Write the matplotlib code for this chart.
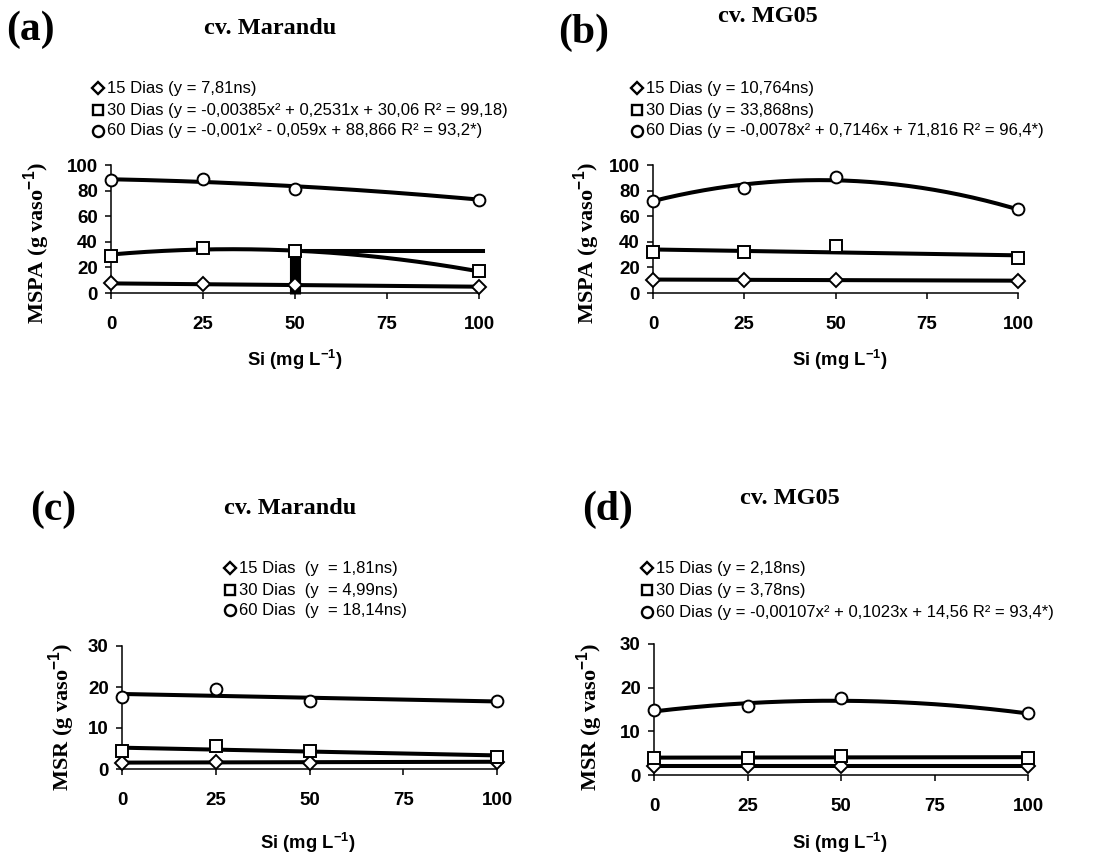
import numpy as np
import matplotlib.pyplot as plt
from matplotlib.lines import Line2D

plt.rcParams['mathtext.fontset'] = 'custom'
plt.rcParams['mathtext.rm'] = 'Liberation Sans:bold'
plt.rcParams['mathtext.bf'] = 'Liberation Sans:bold'

W, H = 1110, 859

si = [0, 25, 50, 100]

# (a) MSPA cv. Marandu
a15 = [7.5, 7, 6, 5]
a30 = [29, 35, 33, 17]
a60 = [88, 89, 81, 73]
a30_coef = [-0.00385, 0.2531, 30.06]
a60_coef = [-0.001, -0.059, 88.866]
# stray marks in the original figure (a)
a_bar_x = [50, 50]
a_bar_y = [-1, 33]
a_hline_x = [53, 101]
a_hline_y = [33, 33]

# (b) MSPA cv. MG05
b15 = [10.5, 10, 10.5, 9.5]
b30 = [32, 32, 37, 27]
b60 = [72, 82, 91, 66]
b60_coef = [-0.0078, 0.7146, 71.816]

# (c) MSR cv. Marandu
c15 = [1.5, 1.8, 1.5, 1.8]
c30 = [4.5, 5.5, 4.5, 3]
c60 = [17.5, 19.5, 16.5, 16.5]

# (d) MSR cv. MG05
d15 = [2, 2, 2, 2]
d30 = [4, 3.8, 4.3, 4]
d60 = [14.8, 15.8, 17.6, 14.1]
d60_coef = [-0.00107, 0.1023, 14.56]

leg_a = ['15 Dias (y = 7,81ns)',
         '30 Dias (y = -0,00385x² + 0,2531x + 30,06 R² = 99,18)',
         '60 Dias (y = -0,001x² - 0,059x + 88,866 R² = 93,2*)']
leg_b = ['15 Dias (y = 10,764ns)',
         '30 Dias (y = 33,868ns)',
         '60 Dias (y = -0,0078x² + 0,7146x + 71,816 R² = 96,4*)']
leg_c = ['15 Dias  (y  = 1,81ns)',
         '30 Dias  (y  = 4,99ns)',
         '60 Dias  (y  = 18,14ns)']
leg_d = ['15 Dias (y = 2,18ns)',
         '30 Dias (y = 3,78ns)',
         '60 Dias (y = -0,00107x² + 0,1023x + 14,56 R² = 93,4*)']

markers = ['D', 's', 'o']
msizes = [7, 8, 8.5]

fig = plt.figure(figsize=(W / 100, H / 100), dpi=100)


def fx(px):
    return px / W


def fy(py):
    return 1 - py / H


def make_ax(x0, x1, y_top, y_bot, ymax, ystep):
    ax = fig.add_axes([fx(x0), fy(y_bot), fx(x1 - x0), fy(y_top) - fy(y_bot)])
    ax.set_xlim(0, 100)
    ax.set_ylim(0, ymax)
    ax.set_xticks([0, 25, 50, 75, 100])
    ax.set_yticks(np.arange(0, ymax + 1, ystep))
    for s in ['top', 'right']:
        ax.spines[s].set_visible(False)
    for s in ['left', 'bottom']:
        ax.spines[s].set_linewidth(1.1)
    ax.tick_params(axis='x', length=4.5, width=1.1, pad=12)
    ax.tick_params(axis='y', length=4.5, width=1.1, pad=5)
    for lab in ax.get_xticklabels() + ax.get_yticklabels():
        lab.set_family('Liberation Sans')
        lab.set_weight('bold')
        lab.set_fontsize(13.5)
    ax.patch.set_alpha(0)
    return ax


def points(ax, y, i):
    ax.plot(si, y, linestyle='none', marker=markers[i], ms=msizes[i],
            mfc='white', mec='black', mew=1.4, zorder=4, clip_on=False)


def curve(ax, coef, x0=0, x1=100):
    xs = np.linspace(x0, x1, 201)
    ax.plot(xs, np.polyval(coef, xs), color='black', lw=2.9, zorder=3,
            clip_on=False)


def linfit(ax, y):
    coef = np.polyfit(si, y, 1)
    curve(ax, coef)


def legend(lines, mx, ys):
    for i, (txt, yy) in enumerate(zip(lines, ys)):
        fig.add_artist(Line2D([fx(mx)], [fy(yy)], transform=fig.transFigure,
                              marker=markers[i], ms=msizes[i] - 0.5,
                              mfc='white', mec='black', mew=1.7, ls='none'))
        fig.text(fx(mx + 9), fy(yy), txt, ha='left', va='center',
                 family='Liberation Sans', fontsize=12)


def titles(tag, tx, ty, name, nx, ny):
    fig.text(fx(tx), fy(ty), tag, ha='left', va='center',
             family='Liberation Serif', weight='bold', fontsize=30)
    fig.text(fx(nx), fy(ny), name, ha='center', va='center',
             family='Liberation Serif', weight='bold', fontsize=17.5)


def labels(ylab, yx, yy, xx_, xy):
    fig.text(fx(yx), fy(yy), ylab, ha='center', va='center', rotation=90,
             family='Liberation Serif', weight='bold', fontsize=16)
    fig.text(fx(xx_), fy(xy), 'Si (mg L$^{-1}$)', ha='center', va='center',
             family='Liberation Sans', weight='bold', fontsize=13.3)


# (a)
ax = make_ax(111, 479, 165, 293, 100, 20)
linfit(ax, a15)
curve(ax, a30_coef, 0, 50)
curve(ax, a30_coef, 50, 100)
curve(ax, a60_coef)
ax.plot(a_bar_x, a_bar_y, color='black', lw=8, solid_capstyle='butt', zorder=3,
        clip_on=False)
ax.plot(a_hline_x, a_hline_y, color='black', lw=2.9, zorder=3, clip_on=False)
for i, y in enumerate([a15, a30, a60]):
    points(ax, y, i)
titles('(a)', 6, 30, 'cv. Marandu', 270, 28)
legend(leg_a, 98, [88, 110, 131])
labels('MSPA (g vaso$^{-1}$)', 37, 243, 295, 360)

# (b)
ax = make_ax(653, 1018, 165, 293, 100, 20)
linfit(ax, b15)
linfit(ax, b30)
curve(ax, b60_coef)
for i, y in enumerate([b15, b30, b60]):
    points(ax, y, i)
titles('(b)', 558, 33, 'cv. MG05', 768, 17)
legend(leg_b, 637, [88, 110, 131])
labels('MSPA (g vaso$^{-1}$)', 587, 243, 840, 360)

# (c)
ax = make_ax(122, 497, 646, 769, 30, 10)
linfit(ax, c15)
linfit(ax, c30)
linfit(ax, c60)
for i, y in enumerate([c15, c30, c60]):
    points(ax, y, i)
titles('(c)', 30, 510, 'cv. Marandu', 290, 508)
legend(leg_c, 230, [568, 590, 610])
labels('MSR (g vaso$^{-1}$)', 62, 717, 308, 843)

# (d)
ax = make_ax(654, 1028, 644, 775, 30, 10)
linfit(ax, d15)
linfit(ax, d30)
curve(ax, d60_coef)
for i, y in enumerate([d15, d30, d60]):
    points(ax, y, i)
titles('(d)', 582, 510, 'cv. MG05', 790, 498)
legend(leg_d, 647, [568, 590, 612])
labels('MSR (g vaso$^{-1}$)', 590, 717, 840, 843)

fig.savefig('out.png', dpi=100)
